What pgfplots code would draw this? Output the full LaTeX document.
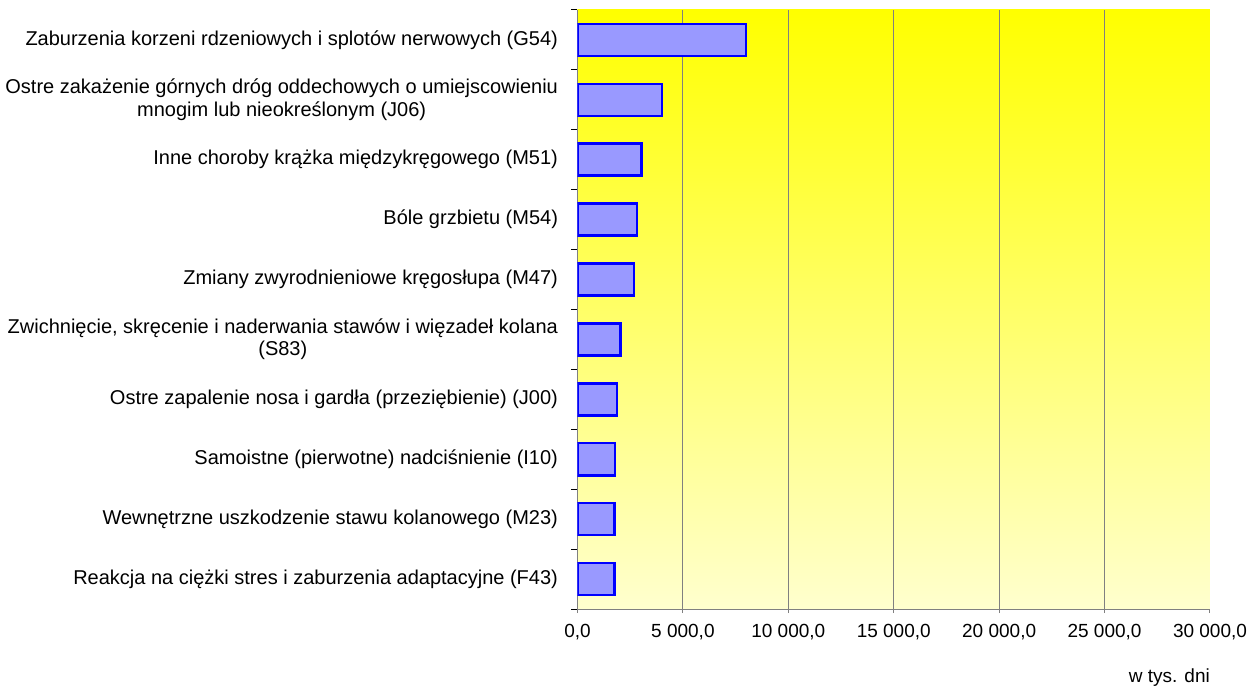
\documentclass[border=0pt]{standalone}
\usepackage{pgfplots}
\pgfplotsset{compat=1.18}
\usepackage{fontspec}
\setmainfont{Liberation Sans}
\definecolor{barfill}{RGB}{153,153,255}
\definecolor{barline}{RGB}{0,0,255}
\definecolor{gridc}{RGB}{128,128,128}
\definecolor{paley}{RGB}{255,255,206}
\begin{document}
\fontsize{19bp}{22bp}\selectfont
\begin{tikzpicture}
\begin{axis}[
  scale only axis, width=632.5bp, height=599bp,
  xmin=0, xmax=30000, ymin=-0.5, ymax=9.5,
  scaled x ticks=false,
  axis lines*=left,
  axis line style={gridc, line width=1bp},
  axis background/.style={shade, top color=yellow, bottom color=paley},
  xtick={0,5000,10000,15000,20000,25000,30000},
  xticklabels={{0,0},{5 000,0},{10 000,0},{15 000,0},{20 000,0},{25 000,0},{30 000,0}},
  extra x ticks={5000,10000,15000,20000,25000},
  extra x tick labels={},
  extra x tick style={xmajorgrids=true, major tick length=0pt},
  major grid style={gridc, line width=1bp},
  tick align=outside,
  major tick length=4bp,
  minor tick length=6bp,
  major x tick style={gridc, line width=1bp},
  major y tick style={draw=none},
  minor y tick style={black, line width=1bp},
  ytick={0,1,2,3,4,5,6,7,8,9},
  minor ytick={-0.5,0.5,1.5,2.5,3.5,4.5,5.5,6.5,7.5,8.5,9.5},
  yticklabels={
    {Reakcja na ciężki stres i zaburzenia adaptacyjne (F43)},
    {Wewnętrzne uszkodzenie stawu kolanowego (M23)},
    {Samoistne (pierwotne) nadciśnienie (I10)},
    {Ostre zapalenie nosa i gardła (przeziębienie) (J00)},
    {Zwichnięcie, skręcenie i naderwania stawów i więzadeł kolana\\(S83)},
    {Zmiany zwyrodnieniowe kręgosłupa (M47)},
    {Bóle grzbietu (M54)},
    {Inne choroby krążka międzykręgowego (M51)},
    {Ostre zakażenie górnych dróg oddechowych o umiejscowieniu\\mnogim lub nieokreślonym (J06)},
    {Zaburzenia korzeni rdzeniowych i splotów nerwowych (G54)}},
  yticklabel style={align=center, xshift=-9bp, font=\fontsize{20bp}{22.5bp}\selectfont},
  xticklabel style={yshift=-5bp},
  xlabel={w tys. dni},
  xlabel style={at={(rel axis cs:1,0)}, anchor=base east, yshift=-73bp, inner sep=0pt},
]
\addplot[xbar, fill=barfill, draw=barline, line width=2.5bp, bar width=32bp]
  coordinates {(1760,0) (1760,1) (1780,2) (1870,3) (2040,4) (2670,5) (2830,6) (3040,7) (4020,8) (7985,9)};
\coordinate (SW) at (rel axis cs:0,0);
\coordinate (NE) at (rel axis cs:1,1);
\end{axis}
\pgfresetboundingbox
\path[use as bounding box] ([xshift=-577.5bp,yshift=-77bp]SW) rectangle ([xshift=39bp,yshift=10bp]NE);
\end{tikzpicture}
\end{document}
